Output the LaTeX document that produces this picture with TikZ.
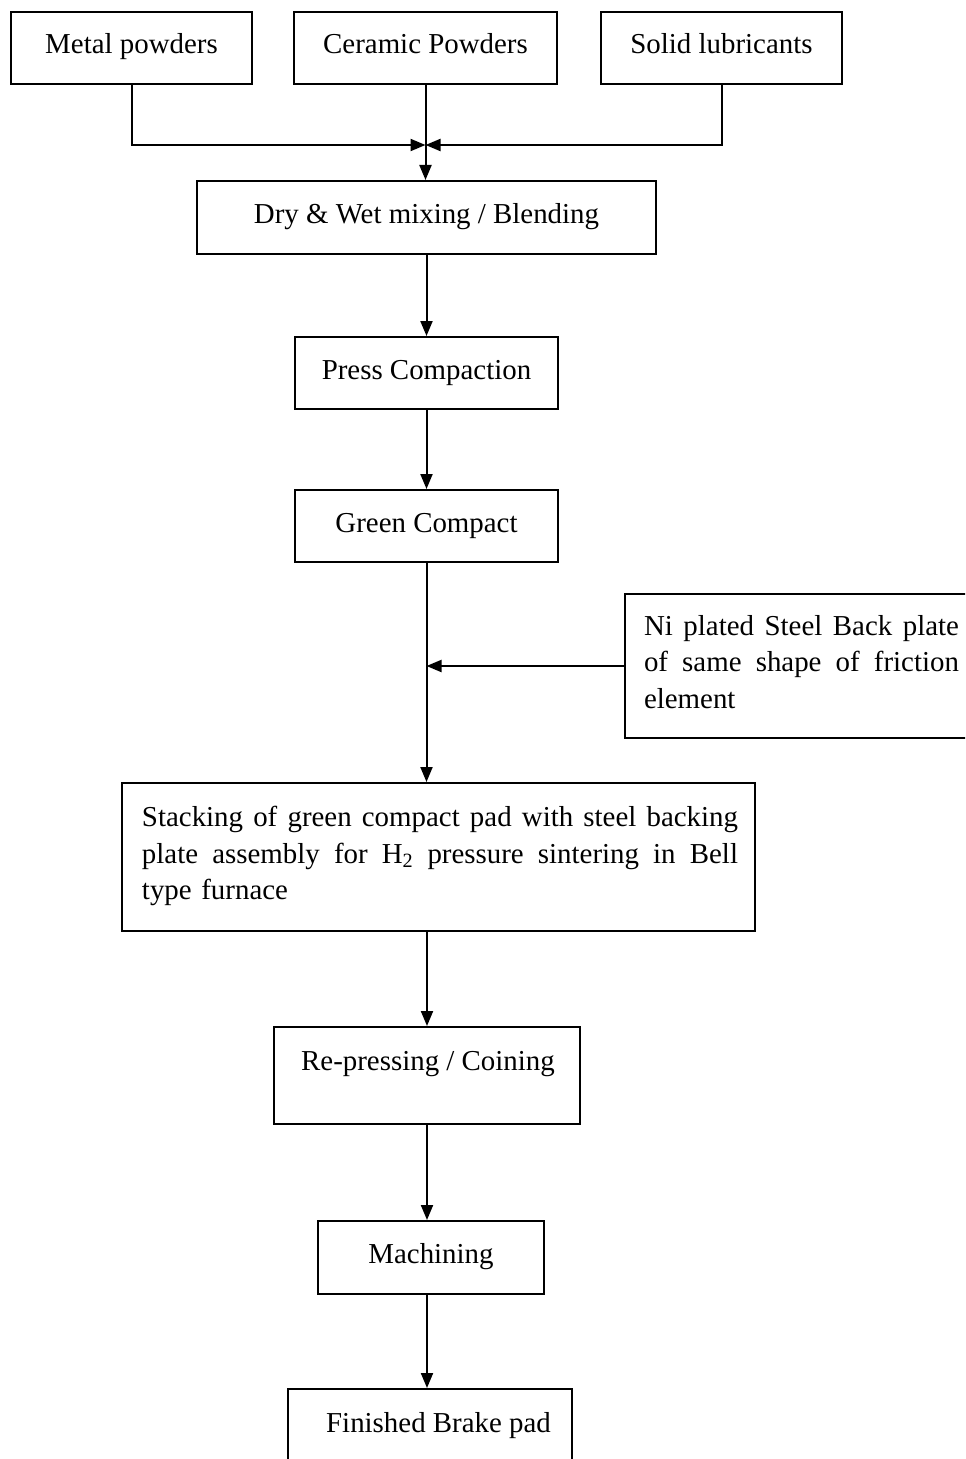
\documentclass[tikz,border=0pt]{standalone}
\usepackage{fontspec}
\setmainfont{Liberation Serif}
\usetikzlibrary{arrows.meta}
\begin{document}
\begin{tikzpicture}[x=1bp,y=-1bp,line width=2bp,
		box/.style={draw,rectangle,inner sep=0pt,text height=20bp,text depth=8bp,font=\fontsize{29}{37}\selectfont},
		lbl/.style={inner sep=0pt,font=\fontsize{29}{37}\selectfont},
		tip/.style={-{Triangle[length=15bp,width=12bp]}}]
		\useasboundingbox (0,0) rectangle (965,1459);
		\clip (0,0) rectangle (965,1459);
		\node[box,minimum width=241bp,minimum height=72bp] (metal) at (131.5,48) {Metal powders};
		\node[box,minimum width=263bp,minimum height=72bp] (ceramic) at (425.5,48) {Ceramic Powders};
		\node[box,minimum width=241bp,minimum height=72bp] (solid) at (721.5,48) {Solid lubricants};
		\node[box,minimum width=459bp,minimum height=73bp] (mix) at (426.5,217.5) {Dry \& Wet mixing / Blending};
		\node[box,minimum width=263bp,minimum height=72bp] (press) at (426.5,373) {Press Compaction};
		\node[box,minimum width=263bp,minimum height=72bp] (green) at (426.5,526) {Green Compact};
		\node[draw,rectangle,minimum width=361bp,minimum height=144bp,anchor=west] (plate) at (624,666) {};
		\node[lbl,text width=315bp,align=left,anchor=west] (platetext) at (643,662)
			{\leavevmode\hbox to 315bp{Ni\hfill plated\hfill Steel\hfill Back\hfill plate}\\\leavevmode\hbox to 315bp{of\hfill same\hfill shape\hfill of\hfill friction}\\element};
		\node[draw,rectangle,minimum width=633bp,minimum height=148bp] (stack) at (438.5,857) {};
		\node[lbl,text width=596bp,align=left] (stacktext) at (440,856)
			{\leavevmode\hbox to 596bp{Stacking\hfill of\hfill green\hfill compact\hfill pad\hfill with\hfill steel\hfill backing}\\\leavevmode\hbox to 596bp{plate\hfill assembly\hfill for\hfill H\textsubscript{2}\hfill pressure\hfill sintering\hfill in\hfill Bell}\\type furnace};
		\node[draw,rectangle,minimum width=306bp,minimum height=97bp] (repress) at (427,1075.5) {};
		\node[lbl,anchor=base] (represstext) at (428,1070) {Re-pressing / Coining};
		\node[box,minimum width=226bp,minimum height=73bp] (machining) at (431,1257.5) {Machining};
		\node[draw,rectangle,minimum width=284bp,minimum height=110bp] (finished) at (430,1444) {};
		\node[lbl,anchor=base] (finishedtext) at (438.5,1432) {Finished Brake pad};
		\coordinate (join) at (425.5,145);
		\draw[tip] (metal.south) |- (join);
		\draw[tip] (solid.south) |- (join);
		\draw[tip] (ceramic.south) -- (ceramic.south |- mix.north);
		\path[tip]
		(mix.south) edge (press.north)
		(press.south) edge (green.north)
		(green.south) edge (green.south |- stack.north)
		(plate.west) edge (plate.west -| green.south)
		(repress.north |- stack.south) edge (repress.north)
		(repress.south) edge (repress.south |- machining.north)
		(repress.south |- machining.south) edge (repress.south |- finished.north);
\end{tikzpicture}
\end{document}
